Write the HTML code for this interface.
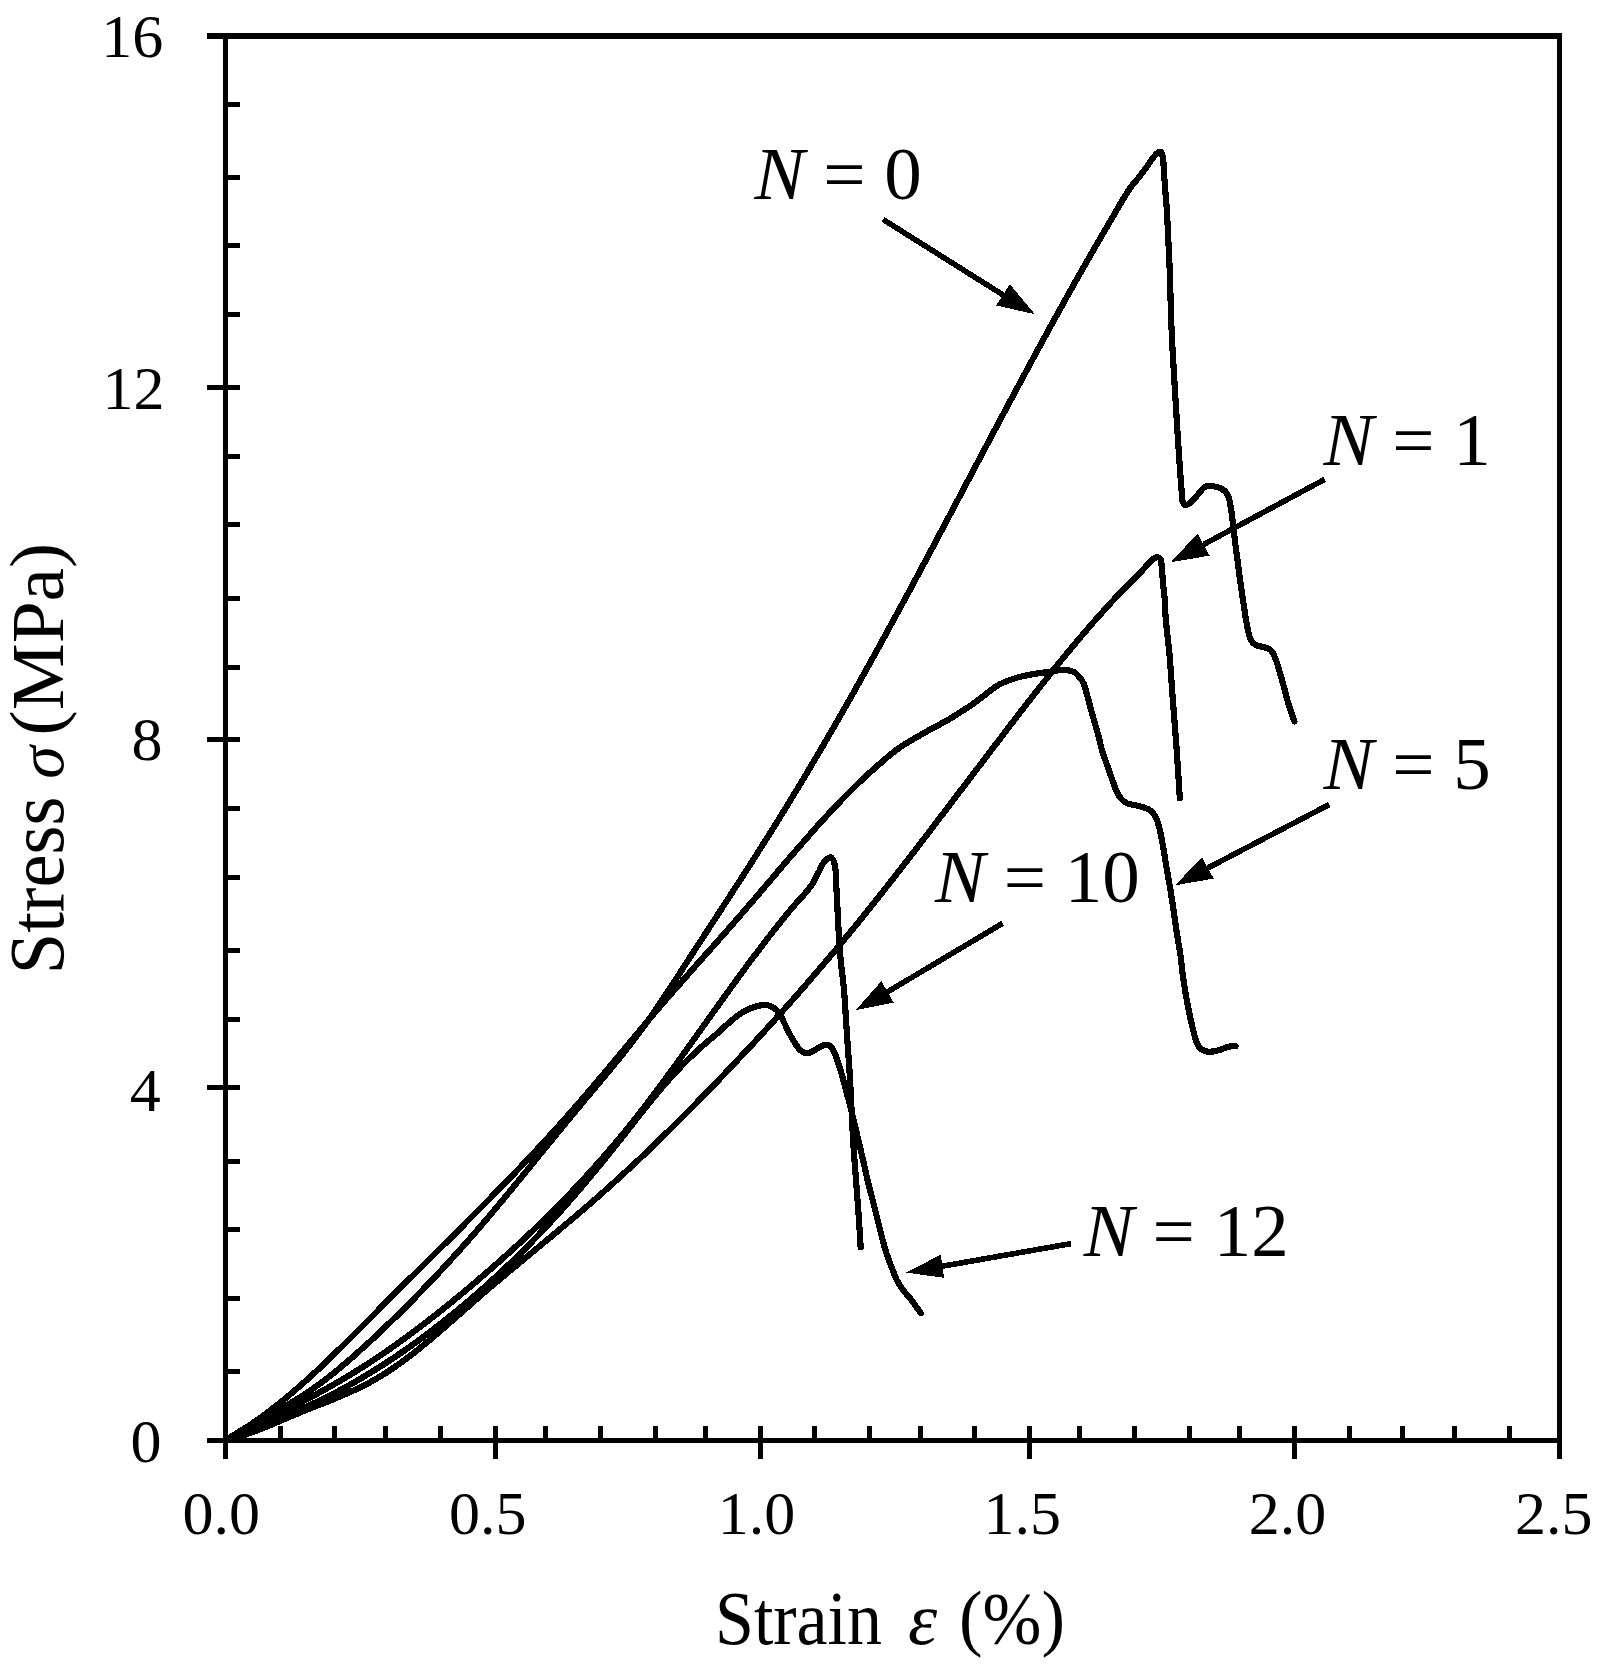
<!DOCTYPE html>
<html><head><meta charset="utf-8"><title>Stress-strain curves</title>
<style>html,body{margin:0;padding:0;background:#fff}svg{display:block}text{font-family:'Liberation Serif','Times New Roman',serif;fill:#000}</style></head>
<body>
<svg width="1613" height="1674" viewBox="0 0 1613 1674">
<rect width="1613" height="1674" fill="#fff"/>
<g stroke="#000" stroke-width="5" fill="none" stroke-linecap="butt" shape-rendering="crispEdges">
<line x1="207" y1="35.9" x2="1561.9" y2="35.9" stroke-width="6"/>
<line x1="207" y1="1440.4" x2="1561.9" y2="1440.4"/>
<line x1="225.5" y1="35.9" x2="225.5" y2="1458.7"/>
<line x1="1559.4" y1="35.9" x2="1559.4" y2="1458.7"/>
<line x1="280" y1="1426" x2="280" y2="1440.4"/>
<line x1="334.7" y1="1426" x2="334.7" y2="1440.4"/>
<line x1="385" y1="1426" x2="385" y2="1440.4"/>
<line x1="440" y1="1426" x2="440" y2="1440.4"/>
<line x1="495" y1="1426" x2="495" y2="1458.7"/>
<line x1="545" y1="1426" x2="545" y2="1440.4"/>
<line x1="600" y1="1426" x2="600" y2="1440.4"/>
<line x1="655" y1="1426" x2="655" y2="1440.4"/>
<line x1="705" y1="1426" x2="705" y2="1440.4"/>
<line x1="760" y1="1426" x2="760" y2="1458.7"/>
<line x1="814.5" y1="1426" x2="814.5" y2="1440.4"/>
<line x1="869.3" y1="1426" x2="869.3" y2="1440.4"/>
<line x1="920" y1="1426" x2="920" y2="1440.4"/>
<line x1="974.5" y1="1426" x2="974.5" y2="1440.4"/>
<line x1="1029.3" y1="1426" x2="1029.3" y2="1458.7"/>
<line x1="1079.4" y1="1426" x2="1079.4" y2="1440.4"/>
<line x1="1134.2" y1="1426" x2="1134.2" y2="1440.4"/>
<line x1="1189.2" y1="1426" x2="1189.2" y2="1440.4"/>
<line x1="1239.3" y1="1426" x2="1239.3" y2="1440.4"/>
<line x1="1294.4" y1="1426" x2="1294.4" y2="1458.7"/>
<line x1="1349.2" y1="1426" x2="1349.2" y2="1440.4"/>
<line x1="1402" y1="1426" x2="1402" y2="1440.4"/>
<line x1="1454.5" y1="1426" x2="1454.5" y2="1440.4"/>
<line x1="1509" y1="1426" x2="1509" y2="1440.4"/>
<line x1="225.5" y1="104.3" x2="240" y2="104.3"/>
<line x1="225.5" y1="177.2" x2="240" y2="177.2"/>
<line x1="225.5" y1="245.8" x2="240" y2="245.8"/>
<line x1="225.5" y1="314.6" x2="240" y2="314.6"/>
<line x1="207" y1="387.7" x2="240" y2="387.7"/>
<line x1="225.5" y1="456.7" x2="240" y2="456.7"/>
<line x1="225.5" y1="524.8" x2="240" y2="524.8"/>
<line x1="225.5" y1="598.9" x2="240" y2="598.9"/>
<line x1="225.5" y1="667" x2="240" y2="667"/>
<line x1="207" y1="739.9" x2="240" y2="739.9"/>
<line x1="225.5" y1="808.9" x2="240" y2="808.9"/>
<line x1="225.5" y1="877.9" x2="240" y2="877.9"/>
<line x1="225.5" y1="950.8" x2="240" y2="950.8"/>
<line x1="225.5" y1="1019.4" x2="240" y2="1019.4"/>
<line x1="207" y1="1087.8" x2="240" y2="1087.8"/>
<line x1="225.5" y1="1161.3" x2="240" y2="1161.3"/>
<line x1="225.5" y1="1229.6" x2="240" y2="1229.6"/>
<line x1="225.5" y1="1298.4" x2="240" y2="1298.4"/>
<line x1="225.5" y1="1371.1" x2="240" y2="1371.1"/>
</g>
<g stroke="#000" stroke-width="6.2" fill="none" stroke-linecap="round" stroke-linejoin="round" shape-rendering="crispEdges">
<path d="M225.5 1440.4C225.5 1440.4 238.8 1431.7 245.6 1427.8C252.2 1423.9 259.0 1420.4 265.7 1416.7C272.4 1413.1 279.2 1409.6 285.8 1405.8C292.6 1401.9 299.3 1397.9 305.9 1393.5C312.7 1389.0 319.4 1384.1 326.0 1379.1C332.8 1373.9 339.5 1368.4 346.1 1362.7C352.9 1357.0 359.6 1351.0 366.2 1344.9C373.0 1338.8 379.7 1332.4 386.3 1326.0C393.1 1319.6 399.8 1313.0 406.4 1306.3C413.2 1299.6 419.9 1292.7 426.5 1285.8C433.3 1278.7 440.0 1271.6 446.6 1264.4C453.4 1257.1 460.1 1249.6 466.8 1242.1C473.5 1234.5 480.2 1226.7 486.9 1218.9C493.6 1211.0 500.3 1202.9 507.0 1194.9C513.7 1186.7 520.4 1178.5 527.1 1170.3C533.8 1162.1 540.5 1153.8 547.2 1145.6C553.9 1137.4 560.6 1129.1 567.3 1121.0C574.0 1112.9 580.7 1104.8 587.4 1096.8C594.1 1088.8 600.8 1080.9 607.5 1072.8C614.2 1064.6 621.0 1056.4 627.6 1047.9C634.4 1039.2 641.1 1030.3 647.7 1021.1C654.5 1011.6 661.2 1001.6 667.8 991.6C674.6 981.5 681.2 971.0 687.9 960.6C694.6 950.3 701.3 940.0 708.0 929.7C714.7 919.4 721.4 909.1 728.1 898.8C734.8 888.5 741.5 878.1 748.2 867.7C754.9 857.2 761.6 846.7 768.3 836.0C775.1 825.3 781.8 814.4 788.4 803.5C795.2 792.5 801.9 781.4 808.5 770.2C815.3 758.9 822.0 747.5 828.6 736.0C835.4 724.4 842.1 712.8 848.7 701.0C855.5 689.1 862.2 677.2 868.8 665.1C875.6 653.0 882.3 640.8 888.9 628.5C895.7 616.2 902.4 603.8 909.1 591.4C915.8 578.9 922.5 566.3 929.2 553.8C935.9 541.2 942.6 528.5 949.3 515.9C956.0 503.2 962.7 490.5 969.4 477.9C976.1 465.2 982.8 452.6 989.5 439.9C996.2 427.3 1002.9 414.7 1009.6 402.1C1016.3 389.6 1023.0 377.1 1029.7 364.7C1036.4 352.3 1043.1 340.0 1049.8 327.7C1056.5 315.5 1063.2 303.4 1069.9 291.4C1076.6 279.5 1083.3 267.6 1090.0 255.9C1096.7 244.3 1103.4 232.8 1110.1 221.4C1116.8 210.1 1124.5 196.0 1130.2 188.0C1133.7 183.0 1136.6 180.3 1139.5 176.6C1142.2 173.2 1144.6 169.8 1147.0 166.5C1149.3 163.4 1151.4 159.7 1153.5 157.2C1155.1 155.3 1156.6 153.2 1158.1 152.5C1159.1 152.0 1160.2 151.7 1160.9 152.1C1161.9 152.7 1162.3 154.9 1162.8 157.2C1163.7 161.4 1163.7 169.6 1164.2 175.8C1164.7 182.0 1165.1 188.2 1165.6 194.4C1166.1 200.6 1166.6 205.7 1167.0 213.0C1167.6 223.3 1168.3 239.7 1168.8 250.2C1169.2 257.8 1169.4 261.6 1169.7 270.0C1170.3 284.6 1170.7 310.5 1171.6 330.2C1172.4 349.2 1173.6 367.4 1174.7 386.0C1175.8 404.6 1177.2 427.3 1178.1 441.8C1178.7 451.1 1179.1 457.0 1179.7 464.8C1180.3 472.9 1180.9 482.8 1181.5 489.6C1181.9 494.4 1181.7 499.3 1182.8 502.0C1183.4 503.5 1184.2 504.8 1185.3 505.1C1186.5 505.4 1188.1 504.2 1189.6 503.2C1191.6 501.8 1193.8 499.2 1195.8 497.0C1197.9 494.7 1200.1 491.5 1202.0 489.6C1203.3 488.3 1204.1 487.1 1205.7 486.5C1207.9 485.7 1211.7 486.0 1214.4 486.5C1217.0 486.9 1219.7 487.8 1221.8 489.0C1223.8 490.1 1225.6 491.6 1226.8 493.3C1228.1 495.1 1228.6 497.2 1229.3 499.5C1230.1 502.4 1230.5 505.8 1231.1 509.4C1231.8 513.9 1232.3 518.9 1233.0 524.3C1233.8 530.7 1234.6 538.6 1235.5 545.4C1236.3 551.8 1237.2 557.8 1238.0 564.0C1238.8 570.2 1239.6 576.6 1240.4 582.6C1241.2 588.1 1242.0 593.1 1242.8 598.6C1243.7 604.6 1244.6 611.4 1245.6 617.2C1246.5 622.5 1247.4 628.0 1248.4 632.1C1249.1 635.0 1249.5 637.3 1250.7 639.5C1251.9 641.7 1253.7 643.9 1255.8 645.1C1257.9 646.4 1260.9 646.3 1263.2 647.0C1265.2 647.6 1267.2 647.8 1268.8 648.8C1270.3 649.7 1271.4 650.9 1272.5 652.5C1274.0 654.6 1275.1 657.8 1276.3 660.9C1277.7 664.5 1278.8 668.9 1280.0 673.0C1281.3 677.2 1282.5 681.6 1283.7 686.0C1285.0 690.6 1286.1 695.5 1287.4 700.0C1288.6 704.2 1289.9 708.3 1291.1 712.1C1292.2 715.4 1294.4 721.4 1294.4 721.4"/>
<path d="M225.5 1440.4C225.5 1440.4 239.2 1432.2 246.0 1427.7C252.8 1423.2 259.7 1418.3 266.4 1413.3C273.3 1408.2 280.1 1402.8 286.9 1397.2C293.7 1391.5 300.6 1385.5 307.3 1379.5C314.2 1373.3 321.0 1366.8 327.8 1360.4C334.6 1353.8 341.4 1347.1 348.2 1340.3C355.1 1333.5 361.9 1326.6 368.7 1319.8C375.5 1313.0 382.3 1306.1 389.1 1299.2C395.9 1292.4 402.8 1285.6 409.6 1278.8C416.4 1272.1 423.2 1265.3 430.0 1258.5C436.8 1251.7 443.7 1245.0 450.5 1238.2C457.3 1231.4 464.1 1224.6 470.9 1217.7C477.8 1210.8 484.6 1204.0 491.4 1197.0C498.2 1190.0 505.0 1183.1 511.8 1176.0C518.7 1168.9 525.5 1161.7 532.3 1154.5C539.1 1147.2 546.0 1139.8 552.8 1132.3C559.6 1124.8 566.4 1117.2 573.2 1109.4C580.1 1101.6 586.9 1093.7 593.7 1085.7C600.5 1077.6 607.3 1069.5 614.1 1061.3C620.9 1053.1 627.7 1044.9 634.6 1036.7C641.4 1028.6 648.2 1020.5 655.0 1012.4C661.8 1004.5 668.6 996.6 675.5 988.8C682.3 981.0 689.1 973.3 695.9 965.6C702.7 957.9 709.6 950.3 716.4 942.6C723.2 934.9 730.0 927.2 736.8 919.4C743.7 911.6 750.5 903.6 757.3 895.7C764.1 887.7 770.9 879.7 777.7 871.7C784.5 863.7 791.3 855.7 798.2 847.9C805.0 840.1 811.8 832.3 818.6 824.7C825.4 817.2 832.2 809.8 839.1 802.6C845.8 795.6 852.6 788.7 859.5 782.1C866.3 775.7 873.2 769.4 880.0 763.6C886.4 758.0 892.2 752.8 899.2 747.9C906.8 742.6 915.7 737.8 924.0 733.0C932.2 728.3 942.2 723.3 948.8 719.4C953.3 716.8 956.2 714.8 960.0 712.4C964.0 709.8 968.3 707.2 972.4 704.3C976.6 701.4 980.7 698.1 984.8 695.0C988.9 691.9 992.9 688.2 997.2 685.7C1001.2 683.3 1005.4 681.7 1009.6 680.1C1013.7 678.6 1017.8 677.4 1022.0 676.4C1026.1 675.4 1030.3 674.6 1034.4 673.9C1038.5 673.2 1042.7 672.7 1046.8 672.1C1050.9 671.5 1055.4 670.5 1059.2 670.2C1062.3 670.0 1065.2 669.8 1067.9 670.2C1070.3 670.6 1072.7 671.3 1074.7 672.5C1076.7 673.7 1078.2 675.7 1079.7 677.5C1081.2 679.4 1082.6 681.2 1083.7 683.6C1085.0 686.4 1085.6 689.7 1086.7 693.5C1088.1 698.5 1089.8 705.3 1091.4 711.1C1093.0 716.9 1095.0 723.3 1096.4 728.5C1097.6 732.7 1098.5 736.2 1099.5 740.0C1100.5 743.8 1101.1 747.6 1102.2 751.3C1103.3 754.9 1104.6 758.2 1106.0 762.0C1107.6 766.4 1109.3 771.4 1111.0 776.1C1112.7 780.7 1114.2 785.8 1116.0 789.8C1117.5 793.1 1118.9 796.1 1120.9 798.4C1122.7 800.5 1124.7 802.3 1127.1 803.4C1129.6 804.6 1132.9 804.6 1135.8 805.3C1138.7 806.0 1141.9 806.7 1144.5 807.7C1146.8 808.6 1148.9 809.3 1150.7 810.8C1152.6 812.4 1154.2 814.5 1155.6 817.0C1157.3 820.1 1158.3 824.0 1159.4 828.2C1160.8 833.6 1161.9 840.3 1163.1 846.8C1164.4 853.9 1165.5 861.8 1166.8 869.1C1168.0 876.2 1169.3 882.9 1170.5 890.2C1171.8 898.1 1173.0 906.7 1174.2 915.0C1175.4 923.3 1176.8 932.8 1177.9 939.8C1178.7 945.0 1179.5 948.1 1180.2 953.2C1181.2 959.9 1181.9 968.8 1183.0 976.5C1184.1 984.3 1185.4 992.4 1186.7 999.7C1187.9 1006.3 1189.1 1012.4 1190.4 1018.3C1191.6 1023.8 1193.0 1029.6 1194.2 1034.2C1195.2 1037.7 1195.7 1040.9 1197.0 1043.5C1198.0 1045.6 1199.1 1047.3 1200.7 1048.6C1202.2 1049.9 1204.2 1050.9 1206.3 1051.4C1208.5 1051.9 1211.3 1051.7 1213.7 1051.4C1216.2 1051.1 1218.6 1050.3 1221.1 1049.5C1223.6 1048.7 1226.1 1047.2 1228.6 1046.7C1230.9 1046.2 1235.6 1046.2 1235.6 1046.2"/>
<path d="M225.5 1440.4C225.5 1440.4 238.9 1433.3 245.7 1429.9C252.4 1426.5 259.2 1423.2 265.9 1419.9C272.6 1416.6 279.4 1413.3 286.1 1409.9C292.8 1406.5 299.6 1403.1 306.3 1399.6C313.0 1396.0 319.8 1392.4 326.5 1388.6C333.2 1384.8 340.0 1380.9 346.7 1376.9C353.4 1372.8 360.2 1368.7 366.9 1364.4C373.6 1360.0 380.3 1355.5 387.0 1350.9C393.8 1346.2 400.5 1341.4 407.2 1336.5C414.0 1331.6 420.7 1326.5 427.4 1321.3C434.2 1316.1 440.9 1310.8 447.6 1305.3C454.4 1299.9 461.1 1294.3 467.8 1288.7C474.6 1283.0 481.3 1277.2 488.0 1271.4C494.8 1265.5 501.5 1259.6 508.2 1253.5C515.0 1247.4 521.7 1241.2 528.4 1234.9C535.2 1228.5 541.9 1222.0 548.6 1215.3C555.4 1208.6 562.1 1201.8 568.8 1194.8C575.6 1187.8 582.3 1180.6 589.0 1173.2C595.8 1165.7 602.5 1158.1 609.2 1150.3C616.0 1142.3 622.7 1134.3 629.4 1126.0C636.2 1117.6 642.9 1108.9 649.6 1100.2C656.3 1091.3 663.1 1082.2 669.7 1073.0C676.5 1063.8 683.2 1054.4 689.9 1045.0C696.7 1035.6 703.4 1026.1 710.1 1016.7C716.9 1007.3 723.6 997.9 730.3 988.6C737.0 979.3 743.7 970.1 750.5 961.0C757.2 952.1 763.9 943.2 770.7 934.5C777.4 926.0 784.1 917.5 790.9 909.3C797.6 901.3 806.2 892.9 811.1 885.9C814.5 880.9 816.2 876.5 818.6 872.2C820.8 868.3 822.3 863.6 824.8 861.1C826.6 859.2 829.4 856.9 831.0 857.4C832.7 857.9 833.8 861.5 834.7 864.8C836.3 870.5 835.9 880.5 836.5 889.6C837.2 900.7 837.7 914.9 838.4 926.8C839.0 937.7 839.6 947.6 840.5 958.0C841.4 968.6 843.1 979.4 844.0 989.8C844.9 999.9 845.3 1009.6 846.0 1019.5C846.7 1029.4 847.3 1039.4 848.0 1049.3C848.7 1059.2 849.4 1068.5 850.0 1079.0C850.7 1090.9 851.3 1105.8 851.9 1117.2C852.4 1126.4 852.7 1133.7 853.2 1142.0C853.7 1150.3 854.4 1158.5 855.0 1166.8C855.6 1175.1 856.3 1183.3 856.9 1191.6C857.5 1199.9 858.1 1208.1 858.7 1216.4C859.3 1224.7 860.0 1235.7 860.3 1241.2C860.5 1244.0 860.6 1247.4 860.6 1247.4"/>
<path d="M225.5 1440.4C225.5 1440.4 239.3 1434.0 246.3 1431.0C253.2 1428.0 260.2 1425.4 267.1 1422.7C274.0 1419.9 281.0 1417.3 287.9 1414.5C294.9 1411.7 301.8 1408.8 308.7 1405.7C315.7 1402.5 322.6 1399.2 329.5 1395.7C336.5 1392.2 343.4 1388.4 350.3 1384.6C357.3 1380.7 364.2 1376.6 371.1 1372.3C378.1 1368.0 385.0 1363.6 391.9 1359.0C398.9 1354.4 405.8 1349.6 412.7 1344.7C419.7 1339.7 426.7 1334.5 433.5 1329.2C440.5 1323.9 447.5 1318.4 454.3 1312.8C461.3 1307.1 468.3 1301.2 475.2 1295.2C482.1 1289.2 489.1 1283.0 496.0 1276.6C502.9 1270.2 509.9 1263.6 516.8 1256.9C523.7 1250.1 530.7 1243.1 537.6 1235.9C544.6 1228.6 551.5 1221.2 558.4 1213.6C565.4 1205.9 572.3 1197.9 579.2 1189.9C586.2 1181.7 593.1 1173.4 600.0 1165.0C607.0 1156.5 613.9 1147.8 620.8 1139.1C627.7 1130.3 634.6 1121.3 641.6 1112.6C648.5 1104.0 655.3 1095.3 662.4 1087.2C669.2 1079.3 676.1 1071.6 683.2 1064.3C690.0 1057.4 697.9 1050.0 704.0 1044.6C708.5 1040.6 712.0 1038.0 716.0 1034.5C720.0 1031.0 724.0 1027.0 728.0 1023.6C731.8 1020.3 735.7 1016.9 739.5 1014.3C742.9 1012.0 746.3 1010.1 749.8 1008.6C753.1 1007.2 756.7 1006.2 759.7 1005.6C762.2 1005.1 764.3 1004.8 766.6 1005.1C769.0 1005.4 771.5 1006.3 773.6 1007.6C775.8 1009.0 777.8 1011.2 779.5 1013.6C781.5 1016.4 782.8 1020.2 784.5 1023.5C786.1 1026.8 787.7 1030.2 789.4 1033.4C791.0 1036.5 792.7 1039.6 794.4 1042.3C796.0 1044.8 797.6 1047.5 799.4 1049.3C800.9 1050.8 802.6 1052.2 804.3 1052.8C805.9 1053.3 807.6 1053.2 809.3 1052.8C811.2 1052.3 813.2 1050.9 815.2 1049.8C817.2 1048.7 819.3 1047.2 821.2 1046.3C822.9 1045.6 824.5 1044.7 826.1 1044.8C827.8 1044.9 829.7 1045.6 831.1 1046.8C832.8 1048.4 833.9 1051.4 835.1 1054.2C836.5 1057.5 837.7 1061.3 839.0 1065.2C840.4 1069.5 841.7 1074.3 843.0 1079.0C844.4 1083.9 845.8 1089.3 847.0 1093.9C848.1 1097.9 848.8 1100.8 849.9 1105.0C851.3 1110.4 852.8 1116.7 854.4 1123.4C856.3 1131.3 858.6 1140.6 860.6 1149.4C862.7 1158.4 864.7 1167.8 866.8 1176.7C868.8 1185.2 870.9 1193.2 873.0 1201.5C875.1 1209.8 877.1 1218.1 879.2 1226.3C881.2 1234.3 883.2 1242.7 885.4 1249.9C887.3 1256.2 889.5 1261.7 891.6 1267.2C893.5 1272.2 895.3 1277.4 897.5 1281.5C899.3 1284.9 901.3 1287.6 903.5 1290.5C905.8 1293.6 908.4 1296.1 911.0 1299.5C914.1 1303.5 920.7 1313.1 920.7 1313.1"/>
<path d="M225.5 1440.4C225.5 1440.4 239.1 1436.8 245.8 1434.5C252.6 1432.3 259.4 1429.5 266.1 1426.8C272.9 1424.1 279.7 1421.1 286.5 1418.2C293.2 1415.4 300.0 1412.5 306.8 1409.8C313.5 1407.0 320.3 1404.5 327.1 1401.8C333.9 1399.0 340.7 1396.3 347.4 1393.3C354.2 1390.3 361.0 1387.1 367.7 1383.6C374.6 1379.9 381.4 1375.9 388.0 1371.6C394.9 1367.1 401.7 1362.2 408.4 1357.1C415.2 1352.0 422.0 1346.4 428.7 1340.9C435.5 1335.2 442.2 1329.3 449.0 1323.4C455.8 1317.5 462.5 1311.5 469.3 1305.6C476.1 1299.6 482.8 1293.7 489.6 1287.9C496.4 1282.1 503.2 1276.4 509.9 1270.8C516.7 1265.1 523.5 1259.5 530.3 1253.9C537.0 1248.3 543.8 1242.7 550.6 1237.1C557.4 1231.4 564.1 1225.8 570.9 1220.1C577.7 1214.4 584.5 1208.6 591.2 1202.7C598.0 1196.8 604.8 1190.8 611.5 1184.8C618.3 1178.6 625.1 1172.4 631.9 1166.1C638.7 1159.8 645.4 1153.4 652.2 1146.9C659.0 1140.3 665.7 1133.7 672.5 1127.0C679.3 1120.3 686.1 1113.5 692.8 1106.7C699.6 1099.8 706.4 1092.8 713.1 1085.8C719.9 1078.8 726.7 1071.7 733.4 1064.5C740.2 1057.3 747.0 1050.1 753.8 1042.8C760.6 1035.5 767.3 1028.1 774.1 1020.6C780.9 1013.1 787.6 1005.5 794.4 997.8C801.2 990.1 808.0 982.4 814.7 974.5C821.5 966.6 828.3 958.6 835.0 950.6C841.8 942.5 848.6 934.3 855.4 926.0C862.2 917.6 868.9 909.2 875.7 900.7C882.5 892.2 889.2 883.6 896.0 874.9C902.8 866.2 909.5 857.5 916.3 848.7C923.1 839.9 929.9 831.0 936.6 822.1C943.4 813.3 950.2 804.3 956.9 795.4C963.7 786.5 970.5 777.6 977.3 768.6C984.0 759.7 990.8 750.8 997.6 741.9C1004.3 733.0 1011.1 724.2 1017.9 715.4C1024.6 706.6 1031.4 697.9 1038.2 689.2C1045.0 680.7 1051.7 672.1 1058.5 663.7C1065.3 655.4 1072.0 647.2 1078.8 639.2C1085.6 631.2 1092.3 623.3 1099.2 615.7C1105.9 608.2 1112.6 600.8 1119.5 593.6C1126.2 586.6 1134.3 579.0 1139.8 573.2C1143.7 569.1 1146.9 565.0 1149.7 562.3C1151.6 560.5 1153.1 558.8 1154.7 558.0C1155.8 557.4 1157.0 557.0 1158.0 557.2C1158.9 557.4 1159.9 557.9 1160.5 559.0C1161.7 561.0 1161.4 566.0 1161.9 570.2C1162.5 575.6 1163.1 583.4 1163.6 588.8C1164.0 593.0 1164.5 596.1 1164.8 600.0C1165.1 604.3 1165.0 608.3 1165.4 613.6C1165.9 621.0 1167.2 633.4 1167.9 640.0C1168.3 644.0 1168.7 645.1 1169.1 649.6C1170.1 659.7 1171.6 682.7 1172.8 699.2C1174.1 715.7 1175.4 732.3 1176.6 748.8C1177.8 765.3 1179.8 798.4 1179.8 798.4"/>
</g>
<g stroke="#000" stroke-width="5.6" stroke-linecap="butt" shape-rendering="crispEdges">
<line x1="883.0" y1="219.4" x2="1003.0" y2="294.9"/>
<line x1="1324.8" y1="479.3" x2="1203.6" y2="544.5"/>
<line x1="1329.3" y1="804.5" x2="1207.8" y2="868.0"/>
<line x1="1002.6" y1="923.3" x2="887.5" y2="991.9"/>
<line x1="1071.0" y1="1243.6" x2="942.4" y2="1266.2"/>
</g>
<g fill="#000" stroke="none" shape-rendering="crispEdges">
<polygon points="1034.8,314.2 1009.9,284.2 996.2,305.5"/>
<polygon points="1170.8,562.3 1197.6,533.5 1209.6,555.6"/>
<polygon points="1175.0,885.3 1202.0,857.4 1213.7,878.6"/>
<polygon points="855.7,1010.2 881.4,981.2 893.7,1002.6"/>
<polygon points="906.2,1272.6 940.7,1254.7 944.1,1277.8"/>
</g>
<g font-size="62">
<text x="163.3" y="57.3" text-anchor="end">16</text>
<text x="164.5" y="409" text-anchor="end">12</text>
<text x="162.5" y="759.5" text-anchor="end">8</text>
<text x="160.8" y="1110.9" text-anchor="end">4</text>
<text x="161.6" y="1461.5" text-anchor="end">0</text>
<text x="182.6" y="1534.4">0.0</text>
<text x="448.9" y="1534.4">0.5</text>
<text x="717.7" y="1534.4">1.0</text>
<text x="983.4" y="1534.4">1.5</text>
<text x="1248.8" y="1534.4">2.0</text>
<text x="1514.9" y="1534.4">2.5</text>
</g>
<g font-size="75">
<text x="754.4" y="198.8"><tspan font-style="italic">N</tspan> = 0</text>
<text x="1323.5" y="465.2"><tspan font-style="italic">N</tspan> = 1</text>
<text x="1323.5" y="788.8"><tspan font-style="italic">N</tspan> = 5</text>
<text x="935" y="902.1"><tspan font-style="italic">N</tspan> = 10</text>
<text x="1083.8" y="1256.4"><tspan font-style="italic">N</tspan> = 12</text>
</g>
<g font-size="74">
<text x="715" y="1643.7" font-size="77" textLength="167" lengthAdjust="spacingAndGlyphs">Strain</text>
<text x="908" y="1643.7" font-style="italic">ε</text>
<text x="959" y="1643.7" textLength="106" lengthAdjust="spacingAndGlyphs"><tspan dy="-1.5">(</tspan><tspan dy="1.5">%</tspan><tspan dy="-1.5">)</tspan></text>
<g transform="translate(63.2,970) rotate(-90)">
<text x="-4.2" y="0" font-size="78" textLength="177.5" lengthAdjust="spacingAndGlyphs">Stress</text>
<text x="191.3" y="0" font-size="66" font-style="italic">σ</text>
<text x="234.6" y="0" font-size="75" textLength="192.5" lengthAdjust="spacingAndGlyphs"><tspan dy="-2">(</tspan><tspan dy="2">MPa</tspan><tspan dy="-2">)</tspan></text>
</g>
</g>
</svg></body></html>
